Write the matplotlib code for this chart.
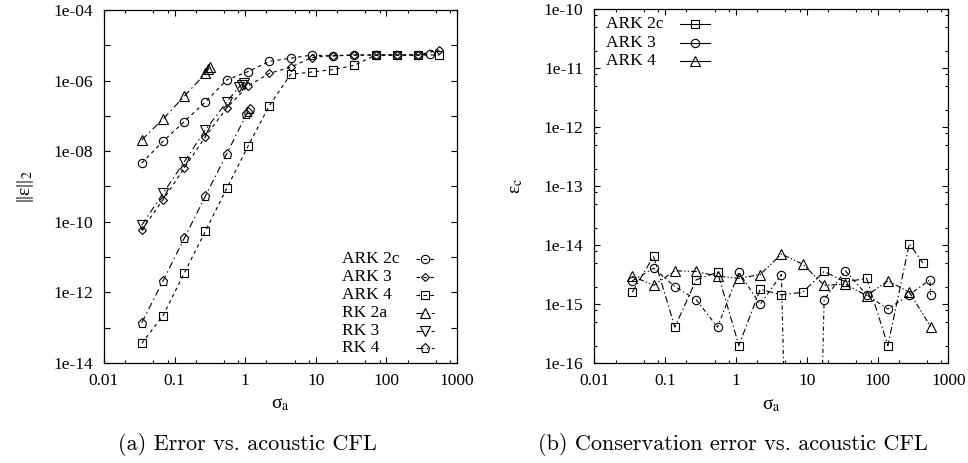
import numpy as np
import matplotlib
matplotlib.use("Agg")
import matplotlib.pyplot as plt
from matplotlib.ticker import FixedLocator, FixedFormatter, NullFormatter, LogLocator

plt.rcParams['font.family'] = "Liberation Serif"
plt.rcParams['mathtext.fontset'] = "stix"
plt.rcParams['lines.scale_dashes'] = False

# acoustic CFL numbers used in the runs
sigma = [0.0343, 0.0686, 0.137, 0.274, 0.549, 1.10, 2.20, 4.39, 8.78, 17.6, 35.1, 70.2, 140, 281, 562]

# (a) L2 error
ark2c_sig = [0.0343, 0.0686, 0.137, 0.274, 0.549, 1.10, 2.20, 4.39, 8.78, 17.6, 35.1, 70.2, 140, 281, 414]
ark2c_err = [4.6e-9, 1.9e-8, 6.9e-8, 2.5e-7, 1.05e-6, 1.8e-6, 3.5e-6, 4.3e-6, 5.3e-6, 5.0e-6, 5.3e-6, 5.3e-6, 5.3e-6, 5.3e-6, 5.6e-6]
ark3_err = [5.9e-11, 4.2e-10, 3.3e-9, 2.6e-8, 1.7e-7, 7.1e-7, 1.6e-6, 2.4e-6, 4.5e-6, 5.1e-6, 5.3e-6, 5.3e-6, 5.3e-6, 5.3e-6, 7.4e-6]
ark4_err = [3.6e-14, 2.2e-13, 3.5e-12, 5.5e-11, 8.9e-10, 1.4e-8, 1.95e-7, 1.5e-6, 1.75e-6, 2.05e-6, 2.7e-6, 5.3e-6, 5.3e-6, 5.3e-6, 5.3e-6]
rk2a_sig = [0.0343, 0.0686, 0.137, 0.274, 0.30, 0.316]
rk2a_err = [2.1e-8, 8.1e-8, 3.6e-7, 1.6e-6, 2.1e-6, 2.5e-6]
rk3_sig = [0.0343, 0.0686, 0.137, 0.274, 0.549, 0.83, 0.89, 0.96]
rk3_err = [8e-11, 6.4e-10, 5e-9, 4e-8, 2.5e-7, 6.8e-7, 7.6e-7, 8.4e-7]
rk4_sig = [0.0343, 0.0686, 0.137, 0.274, 0.549, 1.04, 1.10, 1.16]
rk4_err = [1.38e-13, 2.1e-12, 3.4e-11, 5.4e-10, 8.5e-9, 1.1e-7, 1.3e-7, 1.55e-7]

# (b) conservation error
c_ark2c_sig = [0.0343, 0.0686, 0.137, 0.274, 0.549, 1.10, 2.20, 4.39, 8.78, 17.6, 35.1, 70.2, 140, 281, 437]
c_ark2c = [1.6e-15, 6.5e-15, 4.1e-16, 2.6e-15, 3.5e-15, 2.0e-16, 1.8e-15, 1.45e-15, 1.6e-15, 3.6e-15, 2.4e-15, 2.75e-15, 2.0e-16, 1.07e-14, 5.0e-15]
c_ark3_sig = [0.0343, 0.0686, 0.137, 0.274, 0.549, 1.10, 2.20, 4.39, 8.78, 17.6, 35.1, 70.2, 140, 281, 550, 562]
c_ark3 = [2.5e-15, 4.1e-15, 2.0e-15, 1.2e-15, 4.1e-16, 3.5e-15, 1.0e-15, 3.2e-15, 1e-30, 1.2e-15, 3.7e-15, 1.45e-15, 8.3e-16, 1.45e-15, 2.6e-15, 1.45e-15]
c_ark4 = [3.0e-15, 2.1e-15, 3.7e-15, 3.6e-15, 3.0e-15, 2.75e-15, 3.2e-15, 7.1e-15, 4.8e-15, 2.1e-15, 2.2e-15, 1.4e-15, 2.5e-15, 1.6e-15, 4.2e-16]

DASH = (2.5, 2.5)
DASHDOT = (5, 2.5, 1, 2.5)
LW = 0.8
mk = dict(markerfacecolor='none', markeredgecolor='k', markeredgewidth=0.8, color='k', lw=LW)


def key(ax, rows, xt, xh0, xh1):
    # gnuplot-style key: left-aligned text, then a line sample with the point
    for y, label, marker, ms, dashes in rows:
        ax.text(xt, y, label, transform=ax.transAxes, fontsize=12.5, ha='left', va='center')
        ax.plot([xh0, xh1], [y, y], transform=ax.transAxes, clip_on=False,
                dashes=dashes, color='k', lw=LW)
        ax.plot([(xh0 + xh1) / 2], [y], transform=ax.transAxes, clip_on=False,
                marker=marker, ms=ms, linestyle='none', markerfacecolor='none',
                markeredgecolor='k', markeredgewidth=0.8)


fig = plt.figure(figsize=(9.68, 4.63), dpi=100)
ax1 = fig.add_axes([0.1074, 0.2160, 0.3647, 0.7624])
ax2 = fig.add_axes([0.6140, 0.2153, 0.3657, 0.7646])

ax1.plot(ark2c_sig, ark2c_err, marker='o', ms=6, dashes=DASH, **mk)
ax1.plot(sigma, ark3_err, marker='D', ms=4.2, dashes=DASH, **mk)
ax1.plot(sigma, ark4_err, marker='s', ms=5.5, dashes=DASH, **mk)
ax1.plot(rk2a_sig, rk2a_err, marker='^', ms=6.5, dashes=DASHDOT, **mk)
ax1.plot(rk3_sig, rk3_err, marker='v', ms=6.5, dashes=DASHDOT, **mk)
ax1.plot(rk4_sig, rk4_err, marker='p', ms=6.5, dashes=DASHDOT, **mk)

ax2.plot(c_ark2c_sig, c_ark2c, marker='s', ms=6, dashes=(5, 2, 1, 2), **mk)
ax2.plot(c_ark3_sig, c_ark3, marker='o', ms=6, dashes=(3, 2, 1, 2), **mk)
ax2.plot(sigma, c_ark4, marker='^', ms=6.5, dashes=(1, 1.5, 1, 1.5, 4, 1.5), **mk)

for ax in (ax1, ax2):
    ax.set_xscale('log')
    ax.set_yscale('log')
    ax.set_xlim(0.01, 1000)
    ax.xaxis.set_major_locator(FixedLocator([0.01, 0.1, 1, 10, 100, 1000]))
    ax.xaxis.set_major_formatter(FixedFormatter(['0.01', '0.1', '1', '10', '100', '1000']))
    ax.xaxis.set_minor_locator(LogLocator(base=10, subs=(2, 5, 8)))
    ax.xaxis.set_minor_formatter(NullFormatter())
    ax.tick_params(which='both', direction='in', top=True, right=True, labelsize=12.5, width=0.8)
    ax.tick_params(which='major', length=4)
    ax.tick_params(which='minor', length=2)
    ax.tick_params(axis='y', pad=8)
    ax.tick_params(axis='x', pad=7)
    for s in ax.spines.values():
        s.set_linewidth(0.9)
    ax.set_xlabel('σ$_\\mathrm{a}$', fontsize=14, labelpad=5)

ax1.set_ylim(1e-14, 1e-4)
ax1.yaxis.set_major_locator(FixedLocator([1e-14, 1e-12, 1e-10, 1e-8, 1e-6, 1e-4]))
ax1.yaxis.set_major_formatter(FixedFormatter(['1e-14', '1e-12', '1e-10', '1e-08', '1e-06', '1e-04']))
ax1.yaxis.set_minor_locator(FixedLocator([1e-13, 1e-11, 1e-9, 1e-7, 1e-5]))
ax1.yaxis.set_minor_formatter(NullFormatter())
ax1.tick_params(axis='y', which='minor', length=4)
ax1.set_ylabel('||ε||$_2$', fontsize=14, labelpad=12)

ax2.set_ylim(1e-16, 1e-10)
ax2.yaxis.set_major_locator(FixedLocator([1e-16, 1e-15, 1e-14, 1e-13, 1e-12, 1e-11, 1e-10]))
ax2.yaxis.set_major_formatter(FixedFormatter(['1e-16', '1e-15', '1e-14', '1e-13', '1e-12', '1e-11', '1e-10']))
ax2.yaxis.set_minor_locator(LogLocator(base=10, subs=(2, 5, 8)))
ax2.yaxis.set_minor_formatter(NullFormatter())
ax2.set_ylabel('ε$_\\mathrm{c}$', fontsize=14, labelpad=13)

key(ax1, [(0.294, 'ARK 2c', 'o', 6, DASH),
          (0.244, 'ARK 3', 'D', 4.2, DASH),
          (0.193, 'ARK 4', 's', 5.5, DASH),
          (0.143, 'RK 2a', '^', 6.5, DASHDOT),
          (0.092, 'RK 3', 'v', 6.5, DASHDOT),
          (0.042, 'RK 4', 'p', 6.5, DASHDOT)],
    0.673, 0.884, 0.936)

key(ax2, [(0.958, 'ARK 2c', 's', 6, (None, None)),
          (0.905, 'ARK 3', 'o', 6, (None, None)),
          (0.854, 'ARK 4', '^', 6.5, (None, None))],
    0.033, 0.241, 0.326)

fig.text(0.2557, 0.039, '(a) Error vs. acoustic CFL', family='cmr10', fontsize=16, ha='center', va='center')
fig.text(0.7567, 0.039, '(b) Conservation error vs. acoustic CFL', family='cmr10', fontsize=16, ha='center', va='center')

fig.savefig('out.png', dpi=100)
